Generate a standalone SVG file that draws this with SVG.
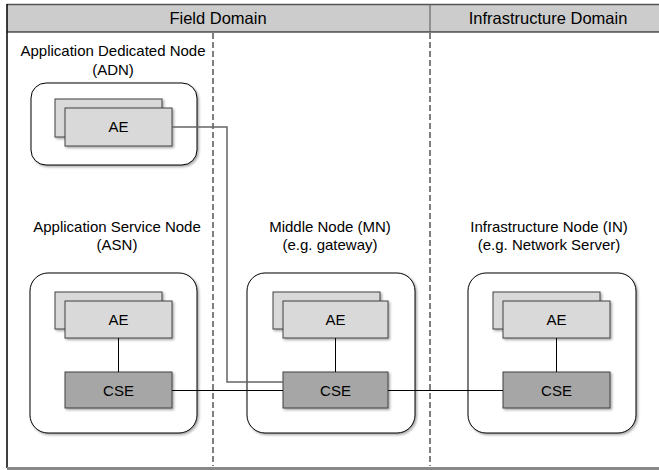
<svg xmlns="http://www.w3.org/2000/svg" width="659" height="470" viewBox="0 0 659 470">
<defs>
<style>
text{font-family:"Liberation Sans",Arial,sans-serif;fill:#000;text-anchor:middle}
.hdr{font-size:16.5px}
.lbl{font-size:15px}
.box{fill:#fff;stroke:#000;stroke-width:1}
.ae{fill:#d9d9d9;stroke:#404040;stroke-width:1}
.cse{fill:#a6a6a6;stroke:#404040;stroke-width:1}
.dash{stroke:#000;stroke-width:1;stroke-dasharray:6,3;fill:none}
.conn{stroke:#000;stroke-width:1;fill:none}
.conn2{stroke:#666;stroke-width:1.5;fill:none}
</style>
<filter id="sh" x="-10%" y="-10%" width="130%" height="130%">
<feDropShadow dx="1.5" dy="1.5" stdDeviation="1" flood-color="#000" flood-opacity="0.35"/>
</filter>
</defs>
<g id="frame">
<rect x="7" y="4.5" width="660" height="27.5" fill="#cccccc"/>
<line x1="7" y1="4.5" x2="659" y2="4.5" stroke="#555" stroke-width="1.5"/>
<line x1="7" y1="32" x2="659" y2="32" stroke="#000" stroke-width="1"/>
<line x1="7" y1="4" x2="7" y2="468" stroke="#000" stroke-width="1.5"/>
<line x1="7" y1="468.5" x2="659" y2="468.5" stroke="#888" stroke-width="3"/>
<line x1="430" y1="4.5" x2="430" y2="32" stroke="#555" stroke-width="1"/>
<text class="hdr" x="218" y="24">Field Domain</text>
<text class="hdr" x="548" y="24">Infrastructure Domain</text>
<line class="dash" x1="213" y1="33" x2="213" y2="466"/>
<line class="dash" x1="430" y1="33" x2="430" y2="466"/>
</g>
<g id="adn">
<text class="lbl" x="113" y="56">Application Dedicated Node</text>
<text class="lbl" x="113" y="75">(ADN)</text>
<rect class="box" x="31" y="83" width="166" height="82" rx="15" filter="url(#sh)"/>
<rect class="ae" x="55" y="99" width="107" height="38" filter="url(#sh)"/>
<rect class="ae" x="65" y="108" width="107" height="38" filter="url(#sh)"/>
<text class="lbl" x="118.5" y="132">AE</text>
</g>
<g id="asn">
<text class="lbl" x="117" y="232">Application Service Node</text>
<text class="lbl" x="117" y="250">(ASN)</text>
<rect class="box" x="30" y="273" width="167" height="160" rx="18" filter="url(#sh)"/>
<rect class="ae" x="55" y="292" width="107" height="37" filter="url(#sh)"/>
<rect class="ae" x="65" y="301" width="107" height="37" filter="url(#sh)"/>
<text class="lbl" x="118.5" y="325">AE</text>
<rect class="cse" x="65" y="372" width="107" height="36" filter="url(#sh)"/>
<text class="lbl" x="118.5" y="396">CSE</text>
</g>
<g id="mn">
<text class="lbl" x="330" y="232">Middle Node (MN)</text>
<text class="lbl" x="330" y="250">(e.g. gateway)</text>
<rect class="box" x="247" y="273" width="168" height="160" rx="18" filter="url(#sh)"/>
<rect class="ae" x="273" y="292" width="107" height="37" filter="url(#sh)"/>
<rect class="ae" x="283" y="301" width="105" height="37" filter="url(#sh)"/>
<text class="lbl" x="335.5" y="325">AE</text>
<rect class="cse" x="283" y="372" width="105" height="36" filter="url(#sh)"/>
<text class="lbl" x="335.5" y="396">CSE</text>
</g>
<g id="in">
<text class="lbl" x="549" y="232">Infrastructure Node (IN)</text>
<text class="lbl" x="549" y="250">(e.g. Network Server)</text>
<rect class="box" x="468" y="273" width="168" height="160" rx="18" filter="url(#sh)"/>
<rect class="ae" x="493" y="292" width="107" height="37" filter="url(#sh)"/>
<rect class="ae" x="503" y="301" width="107" height="37" filter="url(#sh)"/>
<text class="lbl" x="556.5" y="325">AE</text>
<rect class="cse" x="503" y="372" width="107" height="36" filter="url(#sh)"/>
<text class="lbl" x="556.5" y="396">CSE</text>
</g>
<g id="connectors">
<polyline class="conn2" points="172,127 227,127 227,382 283,382"/>
<line class="conn" x1="172" y1="390.5" x2="283" y2="390.5"/>
<line class="conn" x1="388" y1="390.5" x2="503" y2="390.5"/>
<line class="conn" x1="118.5" y1="338" x2="118.5" y2="372"/>
<line class="conn" x1="335.5" y1="338" x2="335.5" y2="372"/>
<line class="conn" x1="556.5" y1="338" x2="556.5" y2="372"/>
</g>
</svg>
